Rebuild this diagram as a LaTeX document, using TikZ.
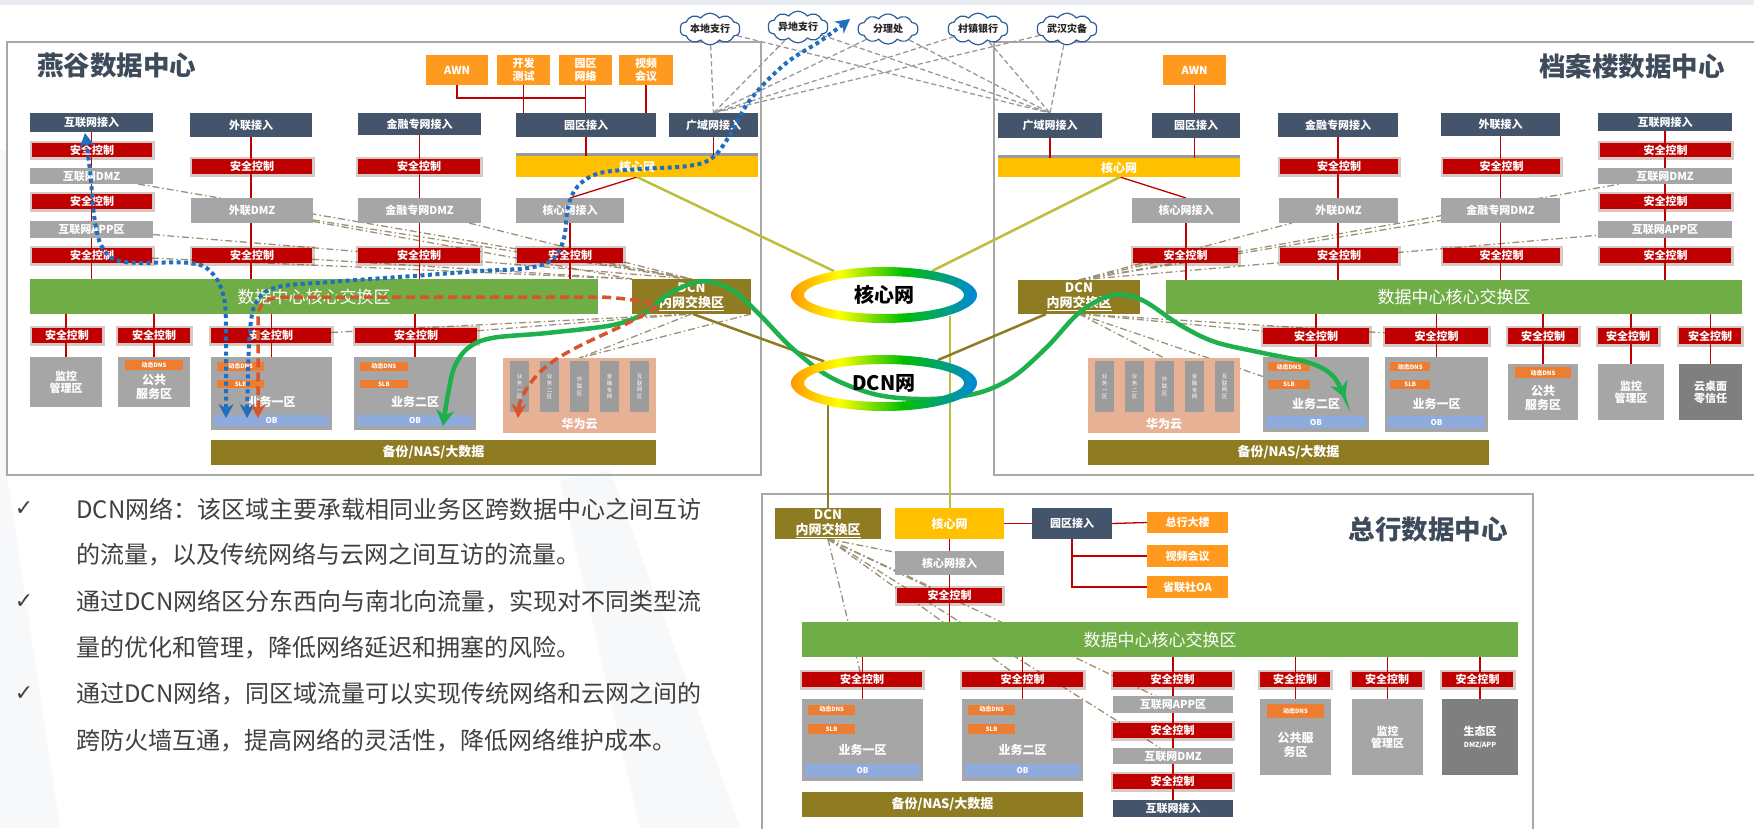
\documentclass[tikz,border=0pt]{standalone}
\usepackage{fontspec}
\newfontfamily\cjk{Noto Sans CJK SC}
\newfontfamily\djv{DejaVu Sans}
\usetikzlibrary{arrows.meta,shapes.symbols,shapes.geometric}
\definecolor{cnavy}{HTML}{44546A}
\definecolor{cred}{HTML}{C00000}
\definecolor{cglow}{HTML}{7A4A3A}
\definecolor{cgray}{HTML}{A6A6A6}
\definecolor{cdgray}{HTML}{7F7F7F}
\definecolor{cinner}{HTML}{9C9C9C}
\definecolor{corange}{HTML}{FF9A1F}
\definecolor{ctag}{HTML}{ED7D31}
\definecolor{cyel}{HTML}{FFC000}
\definecolor{cgrn}{HTML}{70AD47}
\definecolor{colv}{HTML}{8E7B22}
\definecolor{cob}{HTML}{8FAADC}
\definecolor{chw}{HTML}{E7B196}
\definecolor{cframe}{HTML}{A8A8A8}
\definecolor{cylw}{HTML}{BDBF3C}
\definecolor{cdd}{HTML}{9C9172}
\definecolor{ccld}{HTML}{2E5E9A}
\definecolor{cblue}{HTML}{1F6EC0}
\definecolor{credf}{HTML}{D9532B}
\definecolor{cgreenf}{HTML}{1DB04C}
\definecolor{ctitle}{HTML}{3E4B5B}
\definecolor{ctext}{HTML}{404040}
\definecolor{cbgs}{HTML}{E9ECF0}
\definecolor{cfaint}{HTML}{F7F8FA}
\definecolor{cstrip}{HTML}{9A9A9A}
\pgfdeclarelayer{bgzero}\pgfdeclarelayer{bgone}\pgfsetlayers{bgzero,bgone,main}
\pgfdeclarehorizontalshading{rainbow}{100bp}{color(0bp)=(red); color(22bp)=(orange); color(38bp)=(yellow); color(55bp)=(green!75!black); color(78bp)=(cyan!50!blue); color(100bp)=(blue!85!black)}
\newcommand\bx[7]{\node[#2, minimum width={(#5)-(#3)}, minimum height={(#6)-(#4)}] (#1) at ({((#3)+(#5))/2},{((#4)+(#6))/2}) {#7};}
\newcommand\biz[6]{%
  \bx{#1}{bxgray}{#2}{#3}{#4}{#5}{}%
  \pgfmathsetmacro\bzw{(#4)-(#2)}\pgfmathsetmacro\bzh{(#5)-(#3)}%
  \bx{#1d}{bxtag}{#2+0.05*\bzw}{#3+0.07*\bzh}{#2+0.44*\bzw}{#3+0.19*\bzh}{动态DNS}%
  \bx{#1s}{bxtag}{#2+0.05*\bzw}{#3+0.31*\bzh}{#2+0.44*\bzw}{#3+0.43*\bzh}{SLB}%
  \node[bxlab] (#1l) at ({((#2)+(#4))/2},{#3+0.62*\bzh}) {#6};%
  \bx{#1o}{bxob}{#2+3}{#3+0.79*\bzh}{#4-3}{#3+0.95*\bzh}{OB}%
}
\newcommand\pubz[6]{%
  \bx{#1}{bxgray}{#2}{#3}{#4}{#5}{}%
  \pgfmathsetmacro\bzh{(#5)-(#3)}%
  \bx{#1d}{bxtag}{#2+7}{#3+0.06*\bzh}{#4-7}{#3+0.25*\bzh}{动态DNS}%
  \node[bxlab] (#1l) at ({((#2)+(#4))/2},{#3+0.6*\bzh}) {#6};%
}
\newcommand\hw[5]{%
  \bx{#1}{bxhw}{#2}{#3}{#4}{#5}{}%
  \bx{#1a}{bxhwin}{#2+7}{#3+3}{#2+26}{#3+54}{业\\务\\一\\区}%
  \bx{#1b}{bxhwin}{#2+37}{#3+3}{#2+56}{#3+54}{业\\务\\二\\区}%
  \bx{#1c}{bxhwin}{#2+67}{#3+3}{#2+86}{#3+54}{外\\联\\区}%
  \bx{#1d}{bxhwin}{#2+97}{#3+3}{#2+116}{#3+54}{金\\融\\专\\网}%
  \bx{#1e}{bxhwin}{#2+127}{#3+3}{#2+146}{#3+54}{互\\联\\网\\区}%
  \node[bxlab] (#1l) at ({((#2)+(#4))/2},{#3+66}) {华为云};%
}
\begin{document}
\begin{tikzpicture}[x=1pt,y=-1pt,
  bxbase/.style={inner sep=0.5pt, outer sep=0pt, align=center, text=white, font=\cjk\bfseries\fontsize{11}{12}\selectfont},
  bxnav/.style={bxbase, fill=cnavy},
  bxsec/.style={bxbase, fill=cred, preaction={draw=cglow, line width=5pt, draw opacity=0.3}},
  bxgray/.style={bxbase, fill=cgray},
  bxdgray/.style={bxbase, fill=cdgray},
  bxorg/.style={bxbase, fill=corange, font=\cjk\bfseries\fontsize{11}{13}\selectfont},
  bxyel/.style={bxbase, fill=cyel, font=\cjk\bfseries\fontsize{12}{13}\selectfont},
  bxgrn/.style={bxbase, fill=cgrn, font=\cjk\fontsize{17}{18}\selectfont},
  bxolv/.style={bxbase, fill=colv, font=\cjk\bfseries\fontsize{13}{15}\selectfont},
  bxtag/.style={bxbase, fill=ctag, font=\cjk\bfseries\fontsize{6}{7}\selectfont},
  bxob/.style={bxbase, fill=cob, font=\cjk\bfseries\fontsize{8}{9}\selectfont},
  bxhw/.style={bxbase, fill=chw},
  bxhwin/.style={bxbase, fill=cinner, font=\cjk\fontsize{5.5}{6.8}\selectfont},
  bxlab/.style={font=\cjk\bfseries\fontsize{12}{14}\selectfont, text=white, inner sep=0pt, align=center},
  ttl/.style={font=\cjk\bfseries\fontsize{26.5}{28}\selectfont, text=ctitle, inner sep=0pt},
  cld/.style={cloud, cloud puffs=10, cloud puff arc=110, aspect=2.4, draw=ccld, line width=1.2pt, fill=white, inner sep=0pt, minimum width=60, minimum height=30, font=\cjk\bfseries\fontsize{10}{11}\selectfont, text=black!85},
  rl/.style={draw=cred, line width=1.3pt},
  ylw/.style={draw=cylw, line width=2.5pt},
  olvl/.style={draw=colv, line width=2.5pt},
  dd/.style={draw=cdd, line width=1.3pt, dash pattern=on 7pt off 3pt on 1.5pt off 3pt},
  cd/.style={draw=gray!80, line width=1.3pt, dash pattern=on 5pt off 3pt},
  fblue/.style={draw=cblue, line width=4pt, dash pattern=on 4pt off 3.5pt, {Stealth[length=14pt,width=15pt]}-{Stealth[length=14pt,width=15pt]}},
  fred/.style={draw=credf, line width=3.5pt, dash pattern=on 9pt off 5pt, {Stealth[length=14pt,width=15pt]}-{Stealth[length=14pt,width=15pt]}},
  fgrn/.style={draw=cgreenf, line width=4.5pt, {Stealth[length=16pt,width=18pt]}-{Stealth[length=16pt,width=18pt]}},
  ringtxt/.style={font=\cjk\bfseries\fontsize{20}{22}\selectfont, text=black, inner sep=0pt},
  txt/.style={font=\cjk\fontsize{24}{26}\selectfont, text=ctext, anchor=west, inner sep=0pt},
  chk/.style={font=\djv\fontsize{22}{24}\selectfont, text=ctext, inner sep=0pt}]
\useasboundingbox (0,0) rectangle (1754,828);
\begin{pgfonlayer}{bgzero}
\fill[white] (0,0) rectangle (1754,828);
\fill[cbgs] (0,0) rectangle (1754,5);
\fill[cfaint] (0,150) -- (7,150) -- (7,475) -- (60,828) -- (0,828) -- cycle;
\fill[cfaint] (560,480) -- (610,470) -- (740,828) -- (640,828) -- cycle;
\draw[cframe, line width=1.3pt] (7,42) rectangle (761,475);
\draw[cframe, line width=1.3pt] (1760,42) -- (994,42) -- (994,475) -- (1760,475);
\draw[cframe, line width=1.3pt] (762,830) -- (762,494) -- (1533,494) -- (1533,830);
\fill[cstrip] (516,153) rectangle (758,157);
\fill[cstrip] (998,155) rectangle (1240,159);
\end{pgfonlayer}

% ---------------- left data center ----------------
\node[ttl, anchor=west] (aTitle) at (37,65) {燕谷数据中心};
\bx{aAwn}{bxorg}{426}{55}{488}{85}{AWN}
\bx{aDev}{bxorg}{497}{55}{550}{85}{开发\\测试}
\bx{aCamp}{bxorg}{559}{55}{612}{85}{园区\\网络}
\bx{aVid}{bxorg}{619}{55}{673}{85}{视频\\会议}
\bx{aNet}{bxnav}{30}{113}{153}{132}{互联网接入}
\bx{aSec1}{bxsec}{32}{143}{152}{157}{安全控制}
\bx{aDmz}{bxgray}{30}{168}{153}{184}{互联网DMZ}
\bx{aSec2}{bxsec}{32}{194}{152}{209}{安全控制}
\bx{aApp}{bxgray}{30}{221}{153}{238}{互联网APP区}
\bx{aSec3}{bxsec}{32}{248}{152}{263}{安全控制}
\bx{aExt}{bxnav}{190}{113}{312}{137}{外联接入}
\bx{aExtS}{bxsec}{192}{159}{312}{174}{安全控制}
\bx{aExtD}{bxgray}{191}{198}{313}{223}{外联DMZ}
\bx{aExtS2}{bxsec}{192}{248}{312}{263}{安全控制}
\bx{aFin}{bxnav}{358}{113}{481}{135}{金融专网接入}
\bx{aFinS}{bxsec}{358}{159}{480}{174}{安全控制}
\bx{aFinD}{bxgray}{358}{198}{481}{223}{金融专网DMZ}
\bx{aFinS2}{bxsec}{358}{248}{480}{263}{安全控制}
\bx{aPark}{bxnav}{516}{113}{656}{137}{园区接入}
\bx{aWan}{bxnav}{669}{113}{758}{137}{广域网接入}
\bx{aCore}{bxyel}{516}{156}{758}{177}{核心网}
\bx{aCoreIn}{bxgray}{516}{198}{624}{223}{核心网接入}
\bx{aCoreS}{bxsec}{517}{248}{623}{263}{安全控制}
\bx{aSw}{bxgrn}{30}{279}{598}{314}{数据中心核心交换区}
\bx{aDcn}{bxolv}{632}{279}{751}{314}{DCN\\\underline{内网交换区}}
\bx{aS4}{bxsec}{32}{328}{102}{343}{安全控制}
\bx{aS5}{bxsec}{118}{328}{190}{343}{安全控制}
\bx{aS6}{bxsec}{211}{328}{331}{343}{安全控制}
\bx{aS7}{bxsec}{355}{328}{477}{343}{安全控制}
\bx{aMon}{bxgray}{30}{357}{102}{407}{监控\\管理区}
\pubz{aPub}{118}{357}{190}{407}{公共\\服务区}
\biz{aBiz1}{211}{357}{332}{430}{业务一区}
\biz{aBiz2}{354}{357}{476}{430}{业务二区}
\hw{aHw}{503}{358}{656}{433}
\bx{aBak}{bxolv}{211}{440}{656}{465}{备份/NAS/大数据}

% ---------------- right data center ----------------
\node[ttl, anchor=east] (bTitle) at (1725,66) {档案楼数据中心};
\bx{bAwn}{bxorg}{1163}{55}{1226}{85}{AWN}
\bx{bWan}{bxnav}{998}{113}{1102}{138}{广域网接入}
\bx{bPark}{bxnav}{1152}{113}{1240}{138}{园区接入}
\bx{bCore}{bxyel}{998}{158}{1240}{177}{核心网}
\bx{bCoreIn}{bxgray}{1132}{198}{1240}{223}{核心网接入}
\bx{bCoreS}{bxsec}{1133}{248}{1238}{263}{安全控制}
\bx{bFin}{bxnav}{1278}{113}{1398}{137}{金融专网接入}
\bx{bFinS}{bxsec}{1280}{159}{1398}{174}{安全控制}
\bx{bFinD}{bxgray}{1279}{198}{1398}{223}{外联DMZ}
\bx{bFinS2}{bxsec}{1280}{248}{1398}{263}{安全控制}
\bx{bExt}{bxnav}{1441}{113}{1560}{136}{外联接入}
\bx{bExtS}{bxsec}{1443}{159}{1560}{174}{安全控制}
\bx{bExtD}{bxgray}{1441}{198}{1560}{223}{金融专网DMZ}
\bx{bExtS2}{bxsec}{1443}{248}{1560}{263}{安全控制}
\bx{bNet}{bxnav}{1598}{113}{1732}{131}{互联网接入}
\bx{bSec1}{bxsec}{1600}{143}{1731}{157}{安全控制}
\bx{bDmz}{bxgray}{1598}{168}{1732}{184}{互联网DMZ}
\bx{bSec2}{bxsec}{1600}{194}{1731}{209}{安全控制}
\bx{bApp}{bxgray}{1598}{221}{1732}{238}{互联网APP区}
\bx{bSec3}{bxsec}{1600}{248}{1731}{263}{安全控制}
\bx{bDcn}{bxolv}{1018}{280}{1140}{314}{DCN\\\underline{内网交换区}}
\bx{bSw}{bxgrn}{1166}{280}{1742}{314}{数据中心核心交换区}
\bx{bS4}{bxsec}{1263}{328}{1369}{344}{安全控制}
\bx{bS5}{bxsec}{1385}{328}{1488}{344}{安全控制}
\bx{bS6}{bxsec}{1508}{328}{1578}{344}{安全控制}
\bx{bS7}{bxsec}{1598}{328}{1658}{344}{安全控制}
\bx{bS8}{bxsec}{1679}{328}{1741}{344}{安全控制}
\biz{bBiz2}{1263}{357}{1369}{432}{业务二区}
\biz{bBiz1}{1385}{357}{1488}{432}{业务一区}
\pubz{bPub}{1508}{364}{1578}{420}{公共\\服务区}
\bx{bMon}{bxgray}{1598}{364}{1664}{420}{监控\\管理区}
\bx{bVdi}{bxdgray}{1679}{364}{1742}{420}{云桌面\\零信任}
\hw{bHw}{1088}{358}{1240}{433}
\bx{bBak}{bxolv}{1088}{440}{1489}{465}{备份/NAS/大数据}

% ---------------- head office data center ----------------
\node[ttl, anchor=east] (cTitle) at (1508,529) {总行数据中心};
\bx{cDcn}{bxolv}{775}{508}{881}{539}{DCN\\\underline{内网交换区}}
\bx{cCore}{bxyel}{895}{508}{1004}{539}{核心网}
\bx{cPark}{bxnav}{1032}{508}{1112}{539}{园区接入}
\bx{cHq}{bxorg}{1147}{512}{1228}{533}{总行大楼}
\bx{cVid}{bxorg}{1147}{545}{1228}{567}{视频会议}
\bx{cOa}{bxorg}{1147}{576}{1228}{598}{省联社OA}
\bx{cCoreIn}{bxgray}{895}{551}{1004}{575}{核心网接入}
\bx{cCoreS}{bxsec}{897}{588}{1002}{603}{安全控制}
\bx{cSw}{bxgrn}{802}{622}{1518}{657}{数据中心核心交换区}
\bx{cS1}{bxsec}{802}{672}{922}{687}{安全控制}
\bx{cS2}{bxsec}{962}{672}{1083}{687}{安全控制}
\bx{cS3}{bxsec}{1113}{672}{1232}{687}{安全控制}
\bx{cS4}{bxsec}{1260}{672}{1330}{687}{安全控制}
\bx{cS5}{bxsec}{1352}{672}{1422}{687}{安全控制}
\bx{cS6}{bxsec}{1442}{672}{1513}{687}{安全控制}
\biz{cBiz1}{802}{699}{923}{781}{业务一区}
\biz{cBiz2}{962}{699}{1083}{781}{业务二区}
\bx{cApp}{bxgray}{1113}{696}{1233}{713}{互联网APP区}
\bx{cS7}{bxsec}{1113}{723}{1232}{738}{安全控制}
\bx{cDmz}{bxgray}{1113}{748}{1233}{764}{互联网DMZ}
\bx{cS8}{bxsec}{1113}{774}{1232}{789}{安全控制}
\bx{cNet}{bxnav}{1113}{800}{1233}{817}{互联网接入}
\pubz{cPub}{1260}{699}{1331}{775}{公共服\\务区}
\bx{cMon}{bxgray}{1352}{699}{1423}{775}{监控\\管理区}
\bx{cEco}{bxdgray}{1442}{699}{1518}{775}{生态区\\{\fontsize{7}{9}\selectfont DMZ/APP}}
\bx{cBak}{bxolv}{802}{792}{1083}{817}{备份/NAS/大数据}

% ---------------- clouds ----------------
\node[cld] (cl1) at (710,29) {本地支行};
\node[cld] (cl2) at (798,27) {异地支行};
\node[cld] (cl3) at (888,29) {分理处};
\node[cld] (cl4) at (978,29) {村镇银行};
\node[cld] (cl5) at (1067,29) {武汉灾备};

% ---------------- rings (anchors) ----------------
\node[ellipse, minimum width=186, minimum height=56, inner sep=0pt] (rCore) at (884,295) {};
\node[ellipse, minimum width=186, minimum height=56, inner sep=0pt] (rDcn) at (884,383) {};
\coordinate (aCoreB) at (637,177);
\coordinate (bCoreB) at (1120,177);
\coordinate (rCoreB) at (950,316);
\coordinate (rDcnB) at (828,405);
\coordinate (aDcnB) at (693,314);
\coordinate (bDcnB) at (1046,314);

\begin{pgfonlayer}{bgone}
% cloud links
\foreach \c in {cl1,cl2,cl3,cl4,cl5}{
  \draw[cd] (\c) -- (aWan.north);
  \draw[cd] (\c) -- (bWan.north);
}
% dash-dot DCN links, left
\draw[dd] (aDmz) -- (aDcn.north);
\draw[dd] (aApp) -- (aDcn.north);
\draw[dd] (aExtD) -- (aDcn.north);
\draw[dd] (aExtD) -- (aDcn.north west);
\draw[dd] (aFinD) -- (aDcn.north);
\draw[dd] (aSec3) -- (aDcn.north west);
\draw[dd] (aExtS2) -- (aDcn.north west);
\draw[dd] (aCoreS) -- (aDcn.north);
\draw[dd] (aS6) -- (aDcn.south);
\draw[dd] (aS7) -- (aDcn.south);
\draw[dd] (aDcn.south) -- (aHw.north);
\draw[dd] (aDcn.south east) -- (aHw.north);
% dash-dot DCN links, right
\draw[dd] (bDcn.north) -- (bFinD);
\draw[dd] (bDcn.north) -- (bExtD);
\draw[dd] (bDcn.north) -- (bDmz);
\draw[dd] (bDcn.north) -- (bApp);
\draw[dd] (bDcn.north) -- (bCoreS);
\draw[dd] (bDcn.south) -- (bS4);
\draw[dd] (bDcn.south) -- (bS5);
\draw[dd] (bDcn.south) -- (bBiz2);
\draw[dd] (bDcn.south) -- (bHw.north);
% dash-dot DCN links, head office
\draw[dd] (cDcn.south) -- (cS1);
\draw[dd] (cDcn.south) -- (cS2);
\draw[dd] (cDcn.south) -- (cApp);
\draw[dd] (cDcn.south) -- (cDmz);
\draw[dd] (cDcn.south) -- (cCoreIn);
\draw[dd] (cDcn.south) -- (cCoreS);
% red links, left
\draw[rl] (aNet) -- (aNet |- aSw.north);
\draw[rl] (aExt) -- (aExt |- aSw.north);
\draw[rl] (aFin) -- (aFin |- aSw.north);
\draw[rl] (aPark) -- (aPark |- aCore.north);
\draw[rl] (aWan) -- (aWan |- aCore.north);
\draw[rl] (aCoreB) -- (aCoreIn.north);
\draw[rl] (aCoreIn) -- (aCoreIn |- aSw.north);
\draw[rl] (aAwn.south) -- ++(0,13) -| (aCamp.south);
\draw[rl] (aDev) -- (aDev |- aPark.north);
\draw[rl] (aCamp) -- (aCamp |- aPark.north);
\draw[rl] (aVid) -- (aVid |- aPark.north);
\draw[rl] (aMon) -- (aMon |- aSw.south);
\draw[rl] (aPub) -- (aPub |- aSw.south);
\draw[rl] (aBiz1) -- (aBiz1 |- aSw.south);
\draw[rl] (aBiz2) -- (aBiz2 |- aSw.south);
% red links, right
\draw[rl] (bWan) -- (bWan |- bCore.north);
\draw[rl] (bAwn) -- (bAwn |- bCore.north);
\draw[rl] (bCoreB) -- (bCoreIn.north);
\draw[rl] (bCoreIn) -- (bCoreIn |- bSw.north);
\draw[rl] (bFin) -- (bFin |- bSw.north);
\draw[rl] (bExt) -- (bExt |- bSw.north);
\draw[rl] (bNet) -- (bNet |- bSw.north);
\draw[rl] (bBiz2) -- (bBiz2 |- bSw.south);
\draw[rl] (bBiz1) -- (bBiz1 |- bSw.south);
\draw[rl] (bPub) -- (bPub |- bSw.south);
\draw[rl] (bMon) -- (bMon |- bSw.south);
\draw[rl] (bVdi) -- (bVdi |- bSw.south);
% red links, head office
\draw[rl] (cCore) -- (cCore |- cSw.north);
\draw[rl] (cCore.east) -- (cPark.west);
\draw[rl] (cPark.east) -- (cHq.west);
\draw[rl] (cPark.south) |- (cOa.west);
\draw[rl] (cPark.south |- cVid.west) -- (cVid.west);
\draw[rl] (cBiz1) -- (cBiz1 |- cSw.south);
\draw[rl] (cBiz2) -- (cBiz2 |- cSw.south);
\draw[rl] (cNet) -- (cNet |- cSw.south);
\draw[rl] (cPub) -- (cPub |- cSw.south);
\draw[rl] (cMon) -- (cMon |- cSw.south);
\draw[rl] (cEco) -- (cEco |- cSw.south);
% ring links
\draw[ylw] (aCoreB) -- (rCore);
\draw[ylw] (bCoreB) -- (rCore);
\draw[ylw] (cCore.north -| rCoreB) -- (rCoreB);
\draw[olvl] (aDcnB) -- (rDcn);
\draw[olvl] (bDcnB) -- (rDcn);
\draw[olvl] (cDcn.north -| rDcnB) -- (rDcnB);
\end{pgfonlayer}

% ---------------- green flow ----------------
\coordinate (fgA) at (443,426);
\coordinate (fgB) at (1345,398);
\draw[fgrn] plot[smooth, tension=0.55] coordinates {(fgA) (447,400) (454,368) (468,348) (492,338) (547,333) (613,325) (645,313) (667,295) (693,283) (712,282) (735,292) (760,315) (792,348) (830,377) (878,395) (930,399) (978,393) (1013,377) (1047,347) (1080,312) (1113,295) (1142,300) (1180,325) (1215,342) (1263,353) (1310,363) (1333,376) (fgB)};

% ---------------- rings ----------------
\shade[shading=rainbow, even odd rule] (884,295) ellipse [x radius=93pt, y radius=28pt] (884,295) ellipse [x radius=80pt, y radius=19pt];
\shade[shading=rainbow, even odd rule] (884,383) ellipse [x radius=93pt, y radius=28pt] (884,383) ellipse [x radius=80pt, y radius=19pt];
\node[ringtxt] (rCoreT) at (rCore) {核心网};
\node[ringtxt] (rDcnT) at (rDcn) {DCN网};

% ---------------- blue and red flows ----------------
\coordinate (fb1a) at (85,133);
\coordinate (fb1b) at (226,418);
\draw[fblue] plot[smooth, tension=0.6] coordinates {(fb1a) (90,170) (95,222) (104,250) (125,262) (190,263) (212,273) (224,298) (226,340) (fb1b)};
\coordinate (fb2a) at (850,19);
\coordinate (fb2b) at (247,418);
\draw[fblue] plot[smooth, tension=0.6] coordinates {(fb2a) (822,40) (785,64) (750,100) (730,135) (712,158) (688,166) (640,169) (600,173) (578,186) (568,207) (564,238) (553,259) (528,268) (480,271) (413,276) (330,282) (278,287) (258,300) (250,330) (fb2b)};
\coordinate (fr1a) at (258,418);
\coordinate (fr1b) at (518,418);
\draw[fred] (fr1a) -- (258,320) .. controls (258,301) and (266,297) .. (290,297) -- (600,297) .. controls (628,298) and (645,302) .. (657,306) .. controls (625,330) and (565,345) .. (537,375) .. controls (524,390) and (519,402) .. (fr1b);

% ---------------- text ----------------
\node[chk] (k1) at (24,509) {✓};
\node[chk] (k2) at (24,602) {✓};
\node[chk] (k3) at (24,694) {✓};
\node[txt] (t1) at (76,509) {DCN网络：该区域主要承载相同业务区跨数据中心之间互访};
\node[txt] (t2) at (76,555) {的流量，以及传统网络与云网之间互访的流量。};
\node[txt] (t3) at (76,602) {通过DCN网络区分东西向与南北向流量，实现对不同类型流};
\node[txt] (t4) at (76,648) {量的优化和管理，降低网络延迟和拥塞的风险。};
\node[txt] (t5) at (76,694) {通过DCN网络，同区域流量可以实现传统网络和云网之间的};
\node[txt] (t6) at (76,741) {跨防火墙互通，提高网络的灵活性，降低网络维护成本。};
\end{tikzpicture}
\end{document}
